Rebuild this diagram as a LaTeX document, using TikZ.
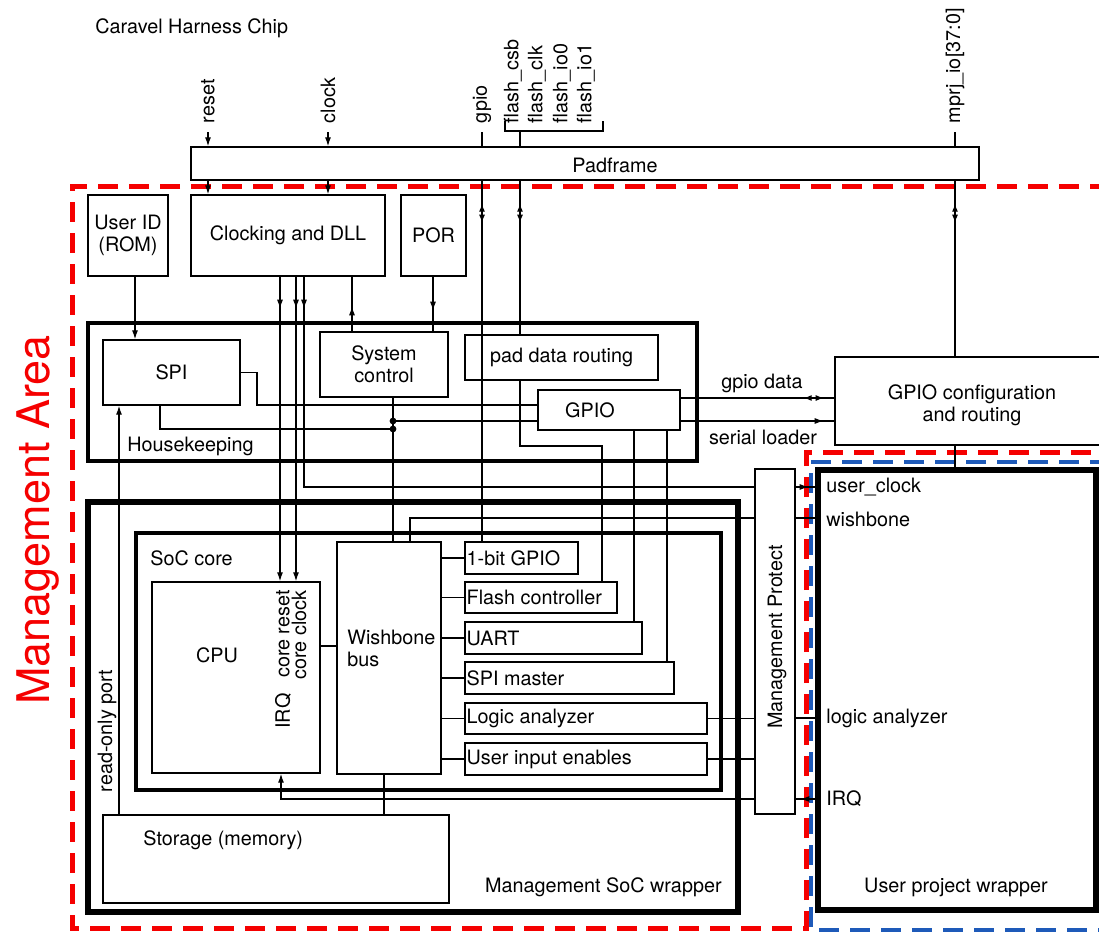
\documentclass[tikz,border=0pt]{standalone}
\usepackage{fontspec}
\setmainfont{TeX Gyre Heros}
\usetikzlibrary{arrows.meta,positioning,fit,decorations.markings}
\definecolor{mred}{RGB}{245,0,0}
\definecolor{ublue}{RGB}{30,90,185}
\tikzset{
  blk/.style={draw, line width=0.7pt, inner sep=0pt},
  hkbox/.style={draw, line width=1.7pt, inner sep=0pt},
  corebox/.style={draw, line width=1.7pt, inner sep=0pt},
  wrapbox/.style={draw, line width=2.6pt, inner sep=0pt},
  membox/.style={draw, line width=1.4pt, inner sep=0pt},
  txt/.style={inner sep=1pt, align=left},
  vtxt/.style={rotate=90, inner sep=1pt},
  padlbl/.style={rotate=90, anchor=west, inner sep=1pt, outer sep=3.5pt},
  wire/.style={line width=0.6pt},
  arr/.style={wire, -{Latex[length=4.5pt,width=3pt]}},
  midarr/.style={postaction={decorate, decoration={markings, mark=at position #1 with {\arrow{Latex[length=4.5pt,width=3pt]}}}}},
  bidir/.style 2 args={postaction={decorate, decoration={markings,
      mark=at position #1 with {\arrowreversed{Latex[length=4pt,width=3pt]}},
      mark=at position #2 with {\arrow{Latex[length=4pt,width=3pt]}}}}},
  mgmtarea/.style={draw=mred, line width=2.5pt, dash pattern=on 10pt off 5.5pt},
  userarea/.style={draw=ublue, line width=2.2pt, dash pattern=on 10pt off 5.5pt},
  jdot/.style={circle, fill, inner sep=0pt, minimum size=3.4pt}
}

\begin{document}
\begin{tikzpicture}[x=0.5pt, y=-0.5pt, font=\fontsize{9.9}{11}\selectfont]
  \useasboundingbox (0,0) rectangle (1099,932);
  \clip (0,0) rectangle (1099,932);
  % areas
  \draw[mgmtarea] (1110,186) -- (72,186) -- (72,928) -- (806,928) -- (806,452) -- (1110,452);
  \draw[userarea] (1110,462) -- (811,462) -- (811,930) -- (1110,930);
  \node[rotate=90, text=mred, font=\fontsize{22.5}{24}\selectfont] (marea) at (38,520) {Management Area};
  \node[txt, anchor=west] (title) at (93,28) {Caravel Harness Chip};

  % padframe and pins
  \node[blk, fit={(191,147) (979,180)}] (pad) {};
  \node[txt] (padl) at (615,165) {Padframe};
  \node[padlbl] (lrst) at (208,132) {reset};
  \node[padlbl] (lclk) at (328,132) {clock};
  \node[padlbl] (lgpio) at (482,132) {gpio};
  \node[padlbl] (lfcsb) at (513,132) {flash\_csb};
  \node[padlbl] (lfclk) at (537,132) {flash\_clk};
  \node[padlbl] (lfio0) at (562,132) {flash\_io0};
  \node[padlbl] (lfio1) at (586,132) {flash\_io1};
  \node[padlbl] (lmprj) at (955,132) {mprj\_io[37:0]};
  \draw[wire] (505,121) -- (505,131) -- (603,131) -- (603,121);
  \coordinate (fbr) at (520,131);

  % top blocks
  \node[blk, fit={(88,195) (168,276)}, label={[align=center]center:User ID\\(ROM)}] (uid) {};
  \node[blk, fit={(191,195) (385,276)}, label=center:Clocking and DLL] (clk) {};
  \node[blk, fit={(401,195) (466,276)}, label=center:POR] (por) {};

  % housekeeping
  \node[hkbox, fit={(88,323) (697,461)}] (hk) {};
  \node[txt, anchor=west] (hkl) at (125,446) {Housekeeping};
  \node[blk, fit={(103,340) (240,405)}, label=center:SPI] (spi) {};
  \node[blk, fit={(320,332) (448,397)}, label={[align=center]center:System\\control}] (sys) {};
  \node[blk, fit={(465,335) (658,380)}, label=center:pad data routing] (pdr) {};
  \node[blk, fit={(538,390) (680,430)}] (gpio) {};
  \node[txt] (gpiol) at (590,410) {GPIO};
  \node[blk, fit={(835,357) (1110,445)}] (gcfg) {};
  \node[txt, align=center] (gcfgl) at (972,405) {GPIO configuration\\and routing};
  \node[txt] (gdl) at (762,383) {gpio data};
  \node[txt] (sll) at (763,437) {serial loader};

  % management SoC
  \node[wrapbox, fit={(88,502) (738,912)}] (msoc) {};
  \node[txt, anchor=east] (msocl) at (724,887) {Management SoC wrapper};
  \node[corebox, fit={(136,533) (721,790)}] (soc) {};
  \node[txt, anchor=west] (socl) at (148,558) {SoC core};
  \node[blk, fit={(152,582) (320,773)}] (cpu) {};
  \node[txt] (cpul) at (217,655) {CPU};
  \node[vtxt, anchor=east] (crst) at (283,588) {core reset};
  \node[vtxt, anchor=east] (cclk) at (299,588) {core clock};
  \node[vtxt] (cirq) at (283,711) {IRQ};
  \node[blk, fit={(337,542) (441,774)}] (wb) {};
  \node[txt, anchor=west] (wbl) at (345,648) {Wishbone\\bus};
  \node[blk, fit={(465,542) (578,574)}] (gp1) {};
  \node[blk, fit={(465,582) (617,613)}] (flc) {};
  \node[blk, fit={(465,622) (642,654)}] (uart) {};
  \node[blk, fit={(465,662) (674,694)}] (spim) {};
  \node[blk, fit={(465,703) (707,734)}] (la) {};
  \node[blk, fit={(465,743) (707,775)}] (uie) {};
  \node[txt, anchor=west] at (gp1.west) {1-bit GPIO};
  \node[txt, anchor=west] at (flc.west) {Flash controller};
  \node[txt, anchor=west] at (uart.west) {UART};
  \node[txt, anchor=west] at (spim.west) {SPI master};
  \node[txt, anchor=west] at (la.west) {Logic analyzer};
  \node[txt, anchor=west] at (uie.west) {User input enables};
  \node[membox, fit={(103,815) (449,903)}] (mem) {};
  \node[txt, anchor=west] (meml) at (141,840) {Storage (memory)};
  \node[vtxt] (rop) at (107,731) {read-only port};

  % protect and user area
  \node[blk, fit={(755,469) (795,814)}] (mp) {};
  \node[vtxt] (mpl) at (777,637) {Management Protect};
  \node[wrapbox, fit={(818,470) (1096,910)}] (upw) {};
  \node[txt] (upwl) at (956,887) {User project wrapper};
  \node[txt, anchor=west] (uclk) at (824,487) {user\_clock};
  \node[txt, anchor=west] (uwb) at (824,519) {wishbone};
  \node[txt, anchor=west] (ula) at (824,718) {logic analyzer};
  \node[txt, anchor=west] (uirq) at (824,799) {IRQ};

  % pins to padframe
  \draw[arr] (lrst.west) -- (lrst.west |- pad.north);
  \draw[arr] (lclk.west) -- (lclk.west |- pad.north);
  \draw[wire] (lgpio.west) -- (lgpio.west |- pad.north);
  \draw[wire] (fbr) -- (fbr |- pad.north);
  \draw[wire] (lmprj.west) -- (lmprj.west |- pad.north);

  % padframe down
  \draw[arr] (lrst.west |- pad.south) -- (lrst.west |- clk.north);
  \draw[arr] (lclk.west |- pad.south) -- (lclk.west |- clk.north);
  \draw[wire, bidir={11.5pt}{21pt}] (lgpio.west |- pad.south) -- (lgpio.west |- gp1.north);
  \draw[wire, bidir={11.5pt}{21pt}] (fbr |- pad.south) -- (fbr |- pdr.north);
  \draw[wire] (fbr |- pdr.south) -- (fbr |- 0,446) -| (602,0 |- flc.north);
  \draw[wire, bidir={11.5pt}{21pt}] (lmprj.west |- pad.south) -- (lmprj.west |- gcfg.north);
  \draw[wire] (lmprj.west |- gcfg.south) -- (lmprj.west |- upw.north);

  % clocking, reset, POR
  \draw[arr] (135,0 |- uid.south) -- (135,0 |- spi.north);
  \draw[arr, midarr=16pt] (280,0 |- clk.south) -- (280,0 |- cpu.north);
  \draw[arr, midarr=16pt] (296,0 |- clk.south) -- (296,0 |- cpu.north);
  \draw[wire, midarr=16pt] (304,0 |- clk.south) |- (0,487 -| mp.west);
  \draw[wire, midarr=12.5pt] (352,0 |- sys.north) -- (352,0 |- clk.south);
  \draw[wire, midarr=17pt] (433,0 |- por.south) -- (433,0 |- sys.north);

  % housekeeping wiring
  \coordinate (j1) at (393,421);
  \coordinate (j2) at (393,429);
  \draw[wire] (spi.east) -| (257,405) -- (0,405 -| gpio.west);
  \draw[wire] (160,0 |- spi.south) |- (j2);
  \draw[wire] (j1) -- (j1 -| gpio.west);
  \draw[wire] (j1 |- sys.south) -- (j1 |- wb.north);
  \node[jdot] (jd1) at (j1) {};
  \node[jdot] (jd2) at (j2) {};
  \draw[wire] (634,0 |- gpio.south) -- (634,0 |- uart.north);
  \draw[wire] (667,0 |- gpio.south) -- (667,0 |- spim.north);
  \draw[wire, bidir={61.5pt}{71.5pt}] (0,398 -| gpio.east) -- (0,398 -| gcfg.west);
  \draw[wire, midarr=71.5pt] (0,421 -| gpio.east) -- (0,421 -| gcfg.west);

  % SoC wiring
  \draw[wire] (0,646 -| cpu.east) -- (0,646 -| wb.west);
  \foreach \p in {gp1,flc,uart,spim,la,uie}
    \draw[wire] (wb.east |- \p.west) -- (\p.west);
  \draw[wire] (410,0 |- wb.north) |- (0,518 -| mp.west);
  \draw[wire] (la.east) -- (la.east -| mp.west);
  \draw[wire] (uie.east) -- (uie.east -| mp.west);
  \draw[arr] (0,799 -| mp.west) -| (281,0 |- cpu.south);
  \draw[wire] (384,0 |- wb.south) -- (384,0 |- mem.north);
  \draw[arr] (119,0 |- mem.north) -- (119,0 |- spi.south);

  % protect to user project
  \draw[wire, midarr=6.5pt] (0,487 -| mp.east) -- (0,487 -| upw.west);
  \draw[wire] (0,518 -| mp.east) -- (0,518 -| upw.west);
  \draw[wire] (0,718 -| mp.east) -- (0,718 -| upw.west);
  \draw[wire, midarr=7.5pt] (0,799 -| upw.west) -- (0,799 -| mp.east);
\end{tikzpicture}
\end{document}
